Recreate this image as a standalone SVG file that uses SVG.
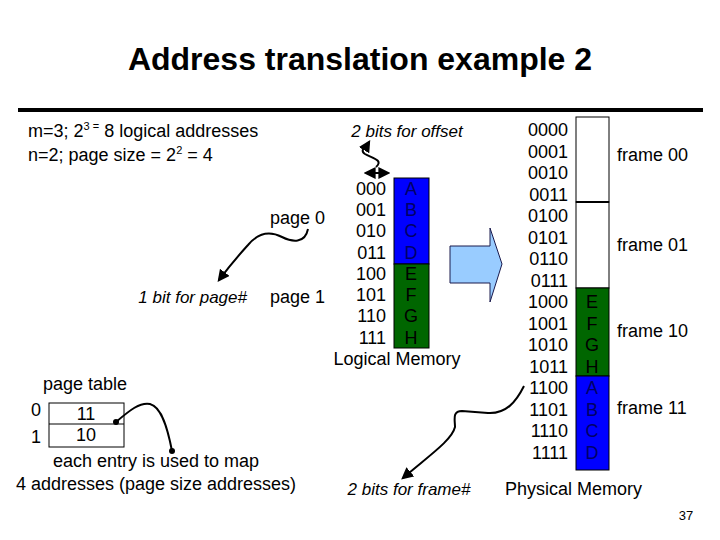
<svg xmlns="http://www.w3.org/2000/svg" width="720" height="540" viewBox="0 0 720 540">
<style>
text{font-family:"Liberation Sans",Arial,sans-serif;fill:#000}
.t{font-size:18px}
.i{font-size:17px;font-style:italic}
.a{font-size:18px;text-anchor:end}
.m{font-size:18px;text-anchor:middle}
.L{font-size:18px;text-anchor:middle;fill:#000066}
.c{fill:none;stroke:#000;stroke-width:2}
.box{stroke:#000;stroke-width:1}
</style>
<defs>
<marker id="ah" viewBox="0 0 10 10" refX="8" refY="5" markerWidth="6" markerHeight="6" orient="auto-start-reverse"><path d="M0,0 L10,5 L0,10 z" fill="#000"/></marker>
<marker id="dot" viewBox="0 0 10 10" refX="5" refY="5" markerWidth="3" markerHeight="3"><circle cx="5" cy="5" r="5" fill="#000"/></marker>
</defs>
<rect width="720" height="540" fill="#fff"/>
<g id="title">
<text x="360" y="70" font-size="32" font-weight="bold" text-anchor="middle">Address translation example 2</text>
<line x1="18" y1="110" x2="703" y2="110" stroke="#000" stroke-width="4"/>
</g>
<g id="params">
<text class="t" x="28" y="137">m=3; 2<tspan font-size="11" dy="-7">3 =</tspan><tspan dy="7"> 8 logical addresses</tspan></text>
<text class="t" x="28" y="161">n=2; page size = 2<tspan font-size="11" dy="-7">2</tspan><tspan dy="7"> = 4</tspan></text>
</g>
<g id="offset-label"><text class="i" x="407" y="137" text-anchor="middle">2 bits for offset</text></g>
<g id="logical-memory">
<rect class="box" x="394" y="178" width="35" height="86" fill="#0000ff"/>
<rect class="box" x="394" y="264" width="35" height="84" fill="#006600"/>
<text class="L" x="411" y="195">A</text>
<text class="L" x="411" y="216">B</text>
<text class="L" x="411" y="237">C</text>
<text class="L" x="411" y="259">D</text>
<text class="L" x="411" y="280" style="fill:#000">E</text>
<text class="L" x="411" y="301" style="fill:#000">F</text>
<text class="L" x="411" y="322" style="fill:#000">G</text>
<text class="L" x="411" y="344" style="fill:#000">H</text>
<text class="a" x="386" y="195">000</text>
<text class="a" x="386" y="216">001</text>
<text class="a" x="386" y="237">010</text>
<text class="a" x="386" y="259">011</text>
<text class="a" x="386" y="280">100</text>
<text class="a" x="386" y="301">101</text>
<text class="a" x="386" y="322">110</text>
<text class="a" x="386" y="344">111</text>
<text class="m" x="397" y="365">Logical Memory</text>
</g>
<g id="page-labels">
<text class="t" x="325" y="224" text-anchor="end">page 0</text>
<text class="t" x="325" y="303" text-anchor="end">page 1</text>
<text class="i" x="247" y="303" text-anchor="end">1 bit for page#</text>
</g>
<g id="translate-arrow">
<path d="M450,246 H490 V228 L502,264 L490,302 V283 H450 Z" fill="#99ccff" stroke="#1a1a4d" stroke-width="1"/>
</g>
<g id="physical-memory">
<rect class="box" x="576" y="117" width="33" height="85" fill="#fff"/>
<rect class="box" x="576" y="202" width="33" height="86" fill="#fff"/>
<line x1="576" y1="202" x2="609" y2="202" stroke="#000" stroke-width="2"/>
<rect class="box" x="576" y="288" width="33" height="88" fill="#006600"/>
<rect class="box" x="576" y="376" width="33" height="94" fill="#0000ff"/>
<text class="a" x="568" y="136">0000</text>
<text class="a" x="568" y="158">0001</text>
<text class="a" x="568" y="179">0010</text>
<text class="a" x="568" y="201">0011</text>
<text class="a" x="568" y="222">0100</text>
<text class="a" x="568" y="244">0101</text>
<text class="a" x="568" y="265">0110</text>
<text class="a" x="568" y="287">0111</text>
<text class="a" x="568" y="308">1000</text>
<text class="a" x="568" y="330">1001</text>
<text class="a" x="568" y="351">1010</text>
<text class="a" x="568" y="373">1011</text>
<text class="a" x="568" y="394">1100</text>
<text class="a" x="568" y="416">1101</text>
<text class="a" x="568" y="437">1110</text>
<text class="a" x="568" y="459">1111</text>
<text class="m" x="592" y="308">E</text>
<text class="m" x="592" y="330">F</text>
<text class="m" x="592" y="351">G</text>
<text class="m" x="592" y="373">H</text>
<text class="L" x="592" y="394">A</text>
<text class="L" x="592" y="416">B</text>
<text class="L" x="592" y="437">C</text>
<text class="L" x="592" y="459">D</text>
<text class="t" x="617" y="161">frame 00</text>
<text class="t" x="617" y="251">frame 01</text>
<text class="t" x="617" y="337">frame 10</text>
<text class="t" x="617" y="414">frame 11</text>
<text class="t" x="505" y="495">Physical Memory</text>
</g>
<g id="page-table">
<text class="t" x="43" y="390">page table</text>
<text class="t" x="31" y="416">0</text>
<text class="t" x="31" y="443">1</text>
<rect class="box" x="49" y="403" width="75" height="44" fill="#fff"/>
<line x1="49" y1="424" x2="124" y2="424" stroke="#000" stroke-width="1"/>
<text class="m" x="86" y="420">11</text>
<text class="m" x="86" y="441">10</text>
<text class="m" x="156" y="467">each entry  is used to map</text>
<text class="m" x="156" y="490">4 addresses (page size addresses)</text>
</g>
<g id="frame-label"><text class="i" x="409" y="495" text-anchor="middle">2 bits for frame#</text></g>
<g id="connectors">
<path class="c" d="M376,167 C384,160 372,158 365,154 C359,150 366,147 369,142" marker-end="url(#ah)"/>
<line x1="366" y1="173" x2="388" y2="173" stroke="#000" stroke-width="2" marker-start="url(#ah)" marker-end="url(#ah)"/>
<path class="c" d="M308,229 C305,244 292,242 282,237 C270,231 258,233 248,245 C238,256 228,268 219,280" marker-end="url(#ah)"/>
<path class="c" d="M116,422 C130,410 140,402 150,404 C162,407 168,430 172,451" marker-start="url(#dot)" marker-end="url(#dot)"/>
<path class="c" d="M524,386 C516,402 506,414 488,413 L462,411 C452,411 455,420 455,427 C452,440 430,455 403,478" marker-end="url(#ah)"/>
</g>
<g id="slide-number"><text x="686" y="520" font-size="13" text-anchor="middle">37</text></g>
</svg>
